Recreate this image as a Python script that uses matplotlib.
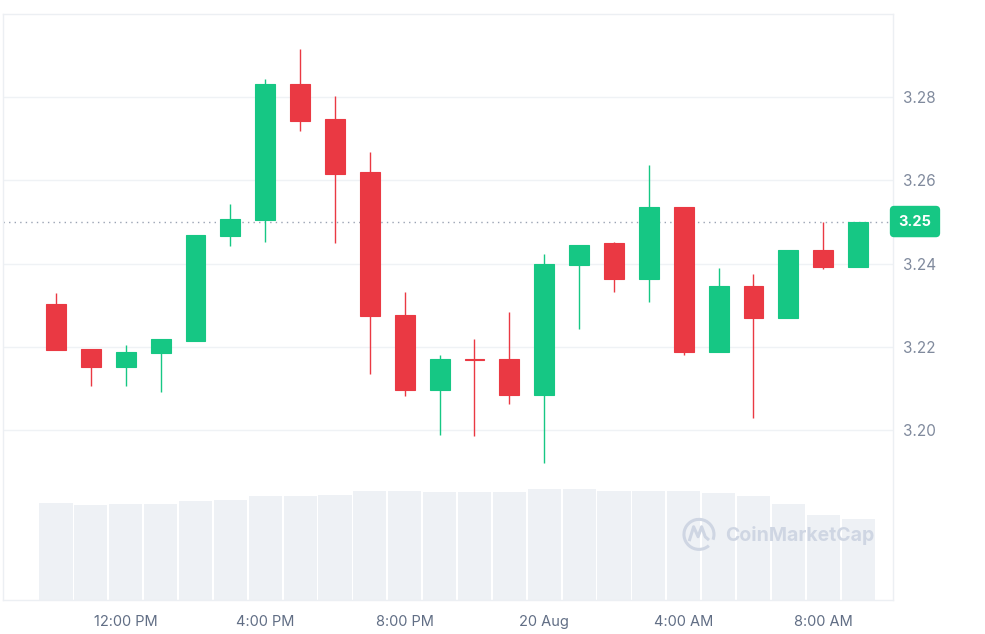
import matplotlib
matplotlib.use("Agg")
import matplotlib.pyplot as plt
import numpy as np
from matplotlib.patches import Arc

# hourly candles, 10:00 AM 19 Aug -> 9:00 AM 20 Aug
opens = [3.2302, 3.2194, 3.2153, 3.2186, 3.2215, 3.2466, 3.2504, 3.2830,
         3.2746, 3.2619, 3.2276, 3.2097, 3.2171, 3.2172, 3.2085, 3.2397,
         3.2449, 3.2362, 3.2537, 3.2189, 3.2347, 3.2270, 3.2433, 3.2391]
closes = [3.2192, 3.2153, 3.2188, 3.2218, 3.2469, 3.2508, 3.2830, 3.2743,
          3.2616, 3.2274, 3.2097, 3.2172, 3.2169, 3.2085, 3.2400, 3.2445,
          3.2362, 3.2537, 3.2189, 3.2347, 3.2270, 3.2433, 3.2391, 3.2501]
highs = [3.2329, 3.2194, 3.2204, 3.2218, 3.2469, 3.2544, 3.2844, 3.2916,
         3.2801, 3.2667, 3.2331, 3.2182, 3.2220, 3.2283, 3.2423, 3.2445,
         3.2452, 3.2636, 3.2537, 3.2390, 3.2375, 3.2433, 3.2501, 3.2501]
lows = [3.2192, 3.2107, 3.2107, 3.2091, 3.2215, 3.2443, 3.2452, 3.2717,
        3.2449, 3.2135, 3.2083, 3.1990, 3.1986, 3.2064, 3.1921, 3.2244,
        3.2332, 3.2308, 3.2182, 3.2189, 3.2030, 3.2270, 3.2388, 3.2391]
# volume in millions (relative)
volumes = [9.73, 9.47, 9.60, 9.60, 9.90, 10.00, 10.43, 10.43, 10.53, 10.93,
           10.93, 10.83, 10.83, 10.83, 11.10, 11.10, 10.93, 10.93, 10.93,
           10.70, 10.43, 9.57, 8.50, 8.13]

tick_idx = [2, 6, 10, 14, 18, 22]
tick_labels = ['12:00 PM', '4:00 PM', '8:00 PM', '20 Aug', '4:00 AM', '8:00 AM']
y_ticks = [3.20, 3.22, 3.24, 3.26, 3.28]
last_price = closes[-1]

green = '#16c784'
red = '#ea3943'
grid_col = '#eff2f5'

plt.rcParams['font.family'] = ['Inter', 'DejaVu Sans']

fig = plt.figure(figsize=(9.85, 6.34), dpi=100)
ax_vol = fig.add_axes([0.003, 0.0536, 0.9036, 0.9244])
ax = fig.add_axes([0.003, 0.0536, 0.9036, 0.9244], sharex=ax_vol)
ax.patch.set_visible(False)

x = np.arange(len(opens))

# volume bars
ax_vol.bar(x, volumes, width=0.95, color='#eef1f5', linewidth=0)
ax_vol.set_ylim(0, 58.6)
ax_vol.set_yticks([])
ax_vol.tick_params(axis='x', length=0, labelbottom=False)
for s in ax_vol.spines.values():
    s.set_visible(False)

# candles
o = np.array(opens)
c = np.array(closes)
cols = [green if cc >= oo else red for oo, cc in zip(o, c)]
ax.vlines(x, lows, highs, colors=cols, linewidth=1, zorder=3)
ax.bar(x, c - o, bottom=o, width=0.57, color=cols, edgecolor=cols,
       linewidth=0.8, zorder=4)

ax.set_xlim(-1.52, 24.0)
ax.set_ylim(3.1593, 3.2999)

# grid
for yv in y_ticks:
    ax.axhline(yv, color=grid_col, linewidth=1, zorder=1)
ax.axhline(last_price, color='#9aa3b3', linewidth=1, linestyle=(0, (1, 3)), zorder=2)

for s in ax.spines.values():
    s.set_color('#eceff3')
    s.set_linewidth(1)

ax.yaxis.tick_right()
ax.set_yticks(y_ticks)
ax.set_yticklabels([f'{v:.2f}' for v in y_ticks])
ax.tick_params(axis='y', length=0, pad=7, labelsize=11, labelcolor='#808a9d')
ax.set_xticks(tick_idx)
ax.set_xticklabels(tick_labels)
ax.tick_params(axis='x', length=0, pad=11, labelsize=10.5, labelcolor='#616e85')

# current price tag
ax.annotate(f'{last_price:.2f}', xy=(1.0, last_price),
            xycoords=('axes fraction', 'data'), xytext=(4, 0),
            textcoords='offset points', ha='left', va='center',
            fontsize=10.5, fontweight='bold', color='white',
            bbox=dict(boxstyle='round,pad=0.55,rounding_size=0.25',
                      fc=green, ec=green))

# watermark
wm = '#cfd6e3'
ax.text(0.811, 0.11, 'CoinMarketCap', transform=ax.transAxes, fontsize=14,
        fontweight='bold', color=wm, ha='left', va='center', zorder=2)
ax.add_patch(Arc((0.782, 0.112), 30 / 890, 30 / 586, theta1=-30, theta2=300,
                 transform=ax.transAxes, color=wm, linewidth=2.2, zorder=2))
ax.plot([0.7715, 0.776, 0.781, 0.785, 0.789, 0.792],
        [0.103, 0.125, 0.108, 0.125, 0.108, 0.104],
        transform=ax.transAxes, color=wm, linewidth=2.2, zorder=2)

fig.savefig('out.png', dpi=100)
